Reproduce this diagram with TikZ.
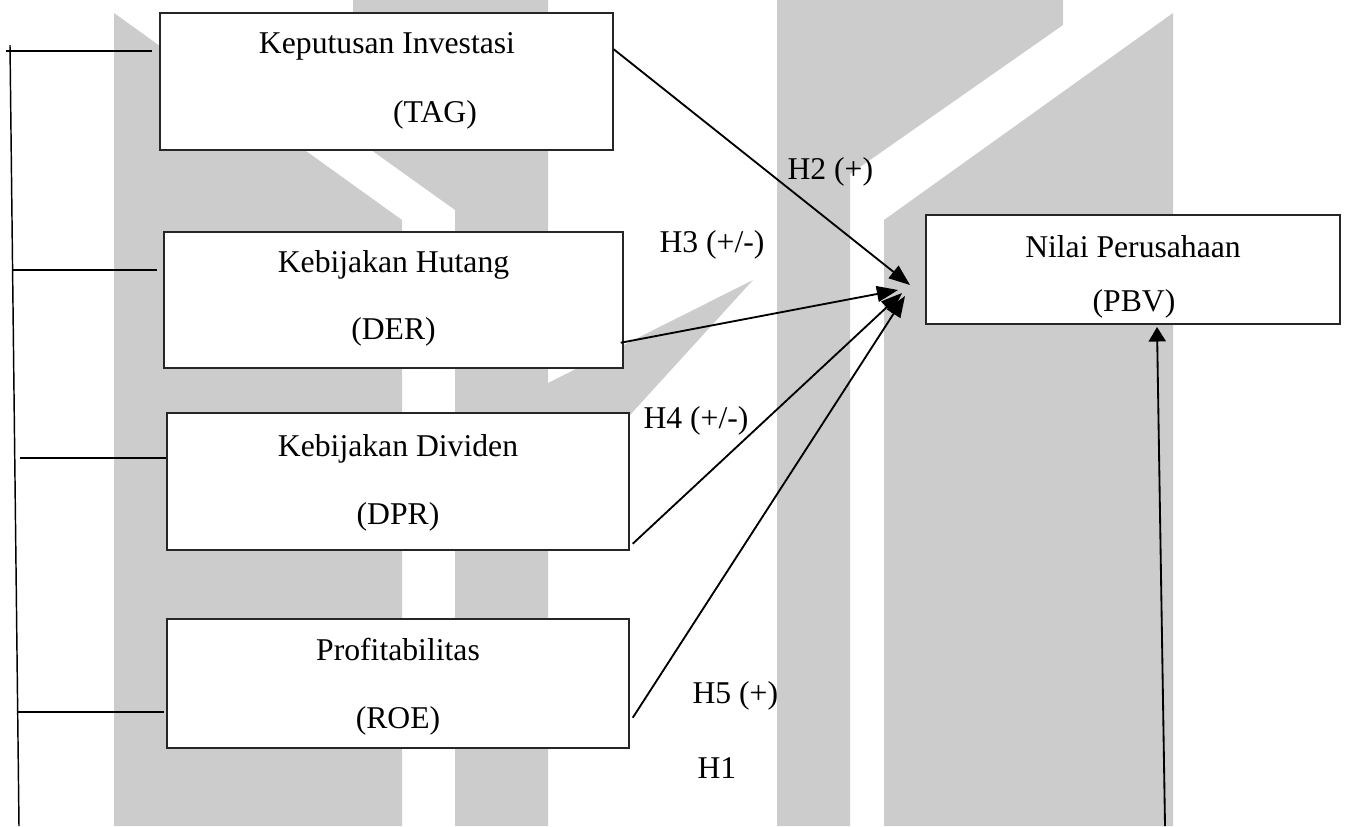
\documentclass[tikz,border=0pt]{standalone}
\usepackage{fontspec}
\setmainfont{Liberation Serif}
\usetikzlibrary{arrows.meta,fit,calc}
\definecolor{wm}{RGB}{204,204,204}
\begin{document}
\begin{tikzpicture}[x=0.3788pt,y=-0.3788pt,
  box/.style={draw=black!85,line width=0.55pt,fill=white,inner sep=0pt},
  txt/.style={inner sep=0pt,font=\fontsize{12}{14}\selectfont},
  conn/.style={line width=0.7pt,-{Triangle[length=8pt,width=6pt]}},
  upconn/.style={line width=0.7pt,-{Triangle[length=5.5pt,width=6.5pt]}},
  brk/.style={line width=0.55pt}]
\useasboundingbox (0,0) rectangle (1348,826);
% watermark
\fill[wm] (114,13) -- (402,220) -- (402,826) -- (114,826) -- cycle;
\fill[wm] (353,0) -- (548,0) -- (548,826) -- (455,826) -- (455,210) -- (353,137) -- cycle;
\fill[wm] (548,383) -- (753,280) -- (548,505) -- cycle;
\fill[wm] (777,0) -- (1063,0) -- (1063,25) -- (850,174) -- (850,826) -- (777,826) -- cycle;
\fill[wm] (884,220) -- (1173,13) -- (1173,826) -- (884,826) -- cycle;
% boxes
\node[box,fit={(160,13)(613,150)}] (tag) {};
\node[box,fit={(164,232)(623,368)}] (der) {};
\node[box,fit={(167,413)(629,550)}] (dpr) {};
\node[box,fit={(167,619)(629,748)}] (roe) {};
\node[box,fit={(926,215)(1340,324)}] (pbv) {};
% box texts
\node[txt,anchor=base] (tagA) at (387,53) {Keputusan Investasi};
\node[txt,anchor=base] (tagB) at (435,122) {(TAG)};
\node[txt,anchor=base] (derA) at (393.5,272) {Kebijakan Hutang};
\node[txt,anchor=base] (derB) at (393.5,339) {(DER)};
\node[txt,anchor=base] (dprA) at (398,456) {Kebijakan Dividen};
\node[txt,anchor=base] (dprB) at (398,524) {(DPR)};
\node[txt,anchor=base] (roeA) at (398,660) {Profitabilitas};
\node[txt,anchor=base] (roeB) at (398,728) {(ROE)};
\node[txt,anchor=base] (pbvA) at (1133,257) {Nilai Perusahaan};
\node[txt,anchor=base] (pbvB) at (1134,311) {(PBV)};
% hypothesis labels
\node[txt,anchor=base west] (h2) at (787,179) {H2 (+)};
\node[txt,anchor=base west] (h3) at (659,252) {H3 (+/-)};
\node[txt,anchor=base west] (h4) at (643,428) {H4 (+/-)};
\node[txt,anchor=base west] (h5) at (692,703) {H5 (+)};
\node[txt,anchor=base west] (h1) at (697,778) {H1};
% arrow tips
\coordinate (t2) at (910,285);
\coordinate (t3) at (898,290);
\coordinate (t4) at (902,293);
\coordinate (t5) at (905,296);
\coordinate (t1) at (1157,327);
\coordinate (b0) at (1165,826);
% connectors
\draw[conn] ($(tag.north east)+(0,37)$) -- (t2);
\draw[conn] ($(der.south east)+(-3,-26)$) -- (t3);
\draw[conn] ($(dpr.south east)+(3,-7)$) -- (t4);
\draw[conn] ($(roe.south east)+(3,-31)$) -- (t5);
\draw[upconn] (b0) -- (t1);
% left bracket
\coordinate (v0) at (10,45);
\coordinate (v1) at (19,826);
\draw[brk] (v0) -- (v1);
\coordinate (l1) at (6,51);
\coordinate (l2) at (13,270);
\coordinate (l3) at (20,458);
\coordinate (l4) at (17,712);
\draw[brk] (l1) -- ($(l1 -| tag.west)+(-7,0)$);
\draw[brk] (l2) -- ($(l2 -| der.west)+(-6,0)$);
\draw[brk] (l3) -- (l3 -| dpr.west);
\draw[brk] (l4) -- ($(l4 -| roe.west)+(-2,0)$);
\end{tikzpicture}
\end{document}
